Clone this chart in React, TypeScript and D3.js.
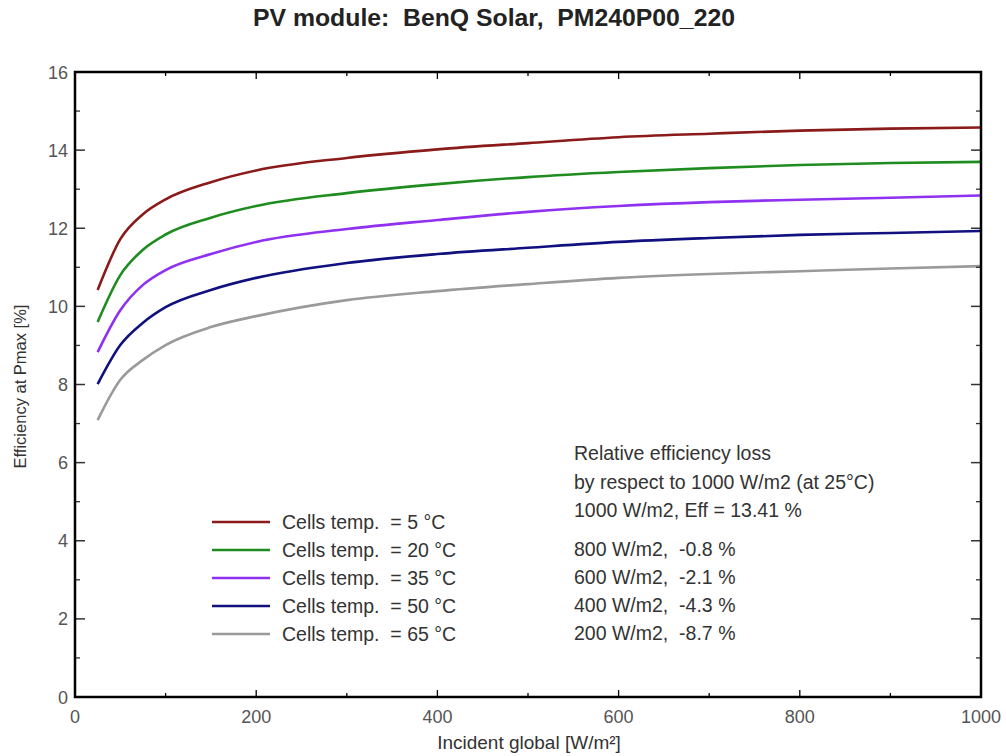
import React from "react";
import * as d3 from "d3";

const irradiance = [25, 50, 75, 100, 150, 200, 300, 400, 500, 600, 700, 800, 900, 1000];
const temps = ["5", "20", "35", "50", "65"];
const seriesValues: number[][] = [
  [10.42, 11.72, 12.36, 12.74, 13.18, 13.48, 13.8, 14.02, 14.18, 14.33, 14.42, 14.5, 14.55, 14.58],
  [9.6, 10.8, 11.45, 11.84, 12.27, 12.57, 12.9, 13.13, 13.31, 13.44, 13.54, 13.62, 13.67, 13.7],
  [8.83, 9.9, 10.55, 10.93, 11.34, 11.65, 11.98, 12.21, 12.42, 12.57, 12.67, 12.73, 12.78, 12.84],
  [8.01, 9.01, 9.58, 9.98, 10.42, 10.73, 11.11, 11.34, 11.5, 11.65, 11.75, 11.83, 11.88, 11.93],
  [7.09, 8.12, 8.63, 9.01, 9.47, 9.75, 10.16, 10.39, 10.57, 10.73, 10.83, 10.9, 10.97, 11.03],
];
const colors = ["#8b1a1a", "#1e8c1e", "#9030f0", "#10107e", "#9a9a9a"];
const xTicks = [0, 200, 400, 600, 800, 1000];
const yTicks = [0, 2, 4, 6, 8, 10, 12, 14, 16];
const infoLines = [
  "Relative efficiency loss",
  "by respect to 1000 W/m2 (at 25°C)",
  "1000 W/m2, Eff = 13.41 %",
];
const lossLines = ["800 W/m2,  -0.8 %", "600 W/m2,  -2.1 %", "400 W/m2,  -4.3 %", "200 W/m2,  -8.7 %"];

const W = 1006, H = 756;
const L = 75, R = 981, T = 72, B = 697;
const pre = { whiteSpace: "pre" as const };

export default function App() {
  const x = d3.scaleLinear().domain([0, 1000]).range([L, R]);
  const y = d3.scaleLinear().domain([0, 16]).range([B, T]);
  const line = d3
    .line<number>()
    .x((_, i) => x(irradiance[i]))
    .y((d) => y(d))
    .curve(d3.curveMonotoneX);
  const xMinor = d3.range(100, 1000, 100);
  const yMinor = d3.range(1, 16, 2);
  const font = "Liberation Sans, Arial, sans-serif";
  return (
    <svg width={W} height={H} style={{ position: "absolute", left: 0, top: 0, background: "#fff" }} fontFamily={font}>
      <rect x={0} y={0} width={W} height={H} fill="#fff" />
      <text x={494} y={26} textAnchor="middle" fontSize={23.5} fontWeight="bold" fill="#222" style={pre}
        textLength={482} lengthAdjust="spacingAndGlyphs">
        PV module:  BenQ Solar,  PM240P00_220
      </text>
      {seriesValues.map((s, i) => (
        <path key={i} d={line(s) || ""} fill="none" stroke={colors[i]} strokeWidth={2.6} />
      ))}
      {xMinor.map((v) => (
        <g key={"xm" + v}>
          <line x1={x(v)} x2={x(v)} y1={B} y2={B - (v % 200 === 0 ? 7 : 4)} stroke="#000" strokeWidth={1.3} />
          <line x1={x(v)} x2={x(v)} y1={T} y2={T + (v % 200 === 0 ? 7 : 4)} stroke="#000" strokeWidth={1.3} />
        </g>
      ))}
      {yTicks.slice(1, -1).map((v) => (
        <g key={"yt" + v}>
          <line x1={L} x2={L + 10} y1={y(v)} y2={y(v)} stroke="#333" strokeWidth={1.5} />
          <line x1={R} x2={R - 10} y1={y(v)} y2={y(v)} stroke="#333" strokeWidth={1.5} />
        </g>
      ))}
      {yMinor.map((v) => (
        <g key={"ym" + v}>
          <line x1={L} x2={L + 5} y1={y(v)} y2={y(v)} stroke="#333" strokeWidth={1.3} />
          <line x1={R} x2={R - 5} y1={y(v)} y2={y(v)} stroke="#333" strokeWidth={1.3} />
        </g>
      ))}
      <rect x={L} y={T} width={R - L} height={B - T} fill="none" stroke="#000" strokeWidth={2.5} />
      {yTicks.map((v) => (
        <text key={"yl" + v} x={L - 7} y={y(v) + 6.5} textAnchor="end" fontSize={18} fill="#555">
          {v}
        </text>
      ))}
      {xTicks.map((v) => (
        <text key={"xl" + v} x={x(v)} y={B + 26} textAnchor="middle" fontSize={18} fill="#555">
          {v}
        </text>
      ))}
      <text x={529} y={749} textAnchor="middle" fontSize={19} fill="#333">
        Incident global [W/m²]
      </text>
      <text transform={`translate(26,${(T + B) / 2 + 2}) rotate(-90)`} textAnchor="middle" fontSize={16.5} fill="#333">
        Efficiency at Pmax [%]
      </text>
      {temps.map((t, i) => (
        <g key={"lg" + t}>
          <line x1={212} x2={270} y1={522 + i * 28} y2={522 + i * 28} stroke={colors[i]} strokeWidth={2.6} />
          <text x={282} y={529 + i * 28} fontSize={19.5} fill="#333" style={pre}>
            {`Cells temp.  = ${t} °C`}
          </text>
        </g>
      ))}
      {infoLines.map((s, i) => (
        <text key={"in" + i} x={574} y={460 + i * 28.5} fontSize={19.5} fill="#333" style={pre}>
          {s}
        </text>
      ))}
      {lossLines.map((s, i) => (
        <text key={"ls" + i} x={574} y={556 + i * 28} fontSize={19.5} fill="#333" style={pre}>
          {s}
        </text>
      ))}
    </svg>
  );
}
